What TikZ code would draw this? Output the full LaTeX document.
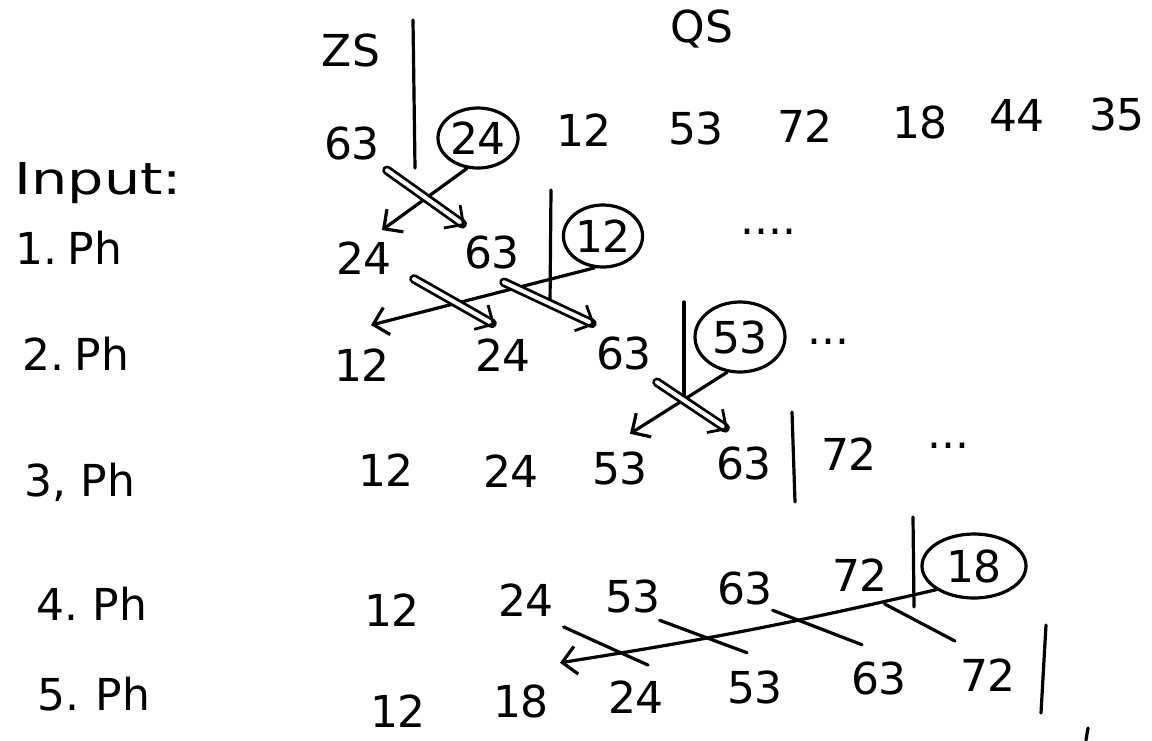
\documentclass[tikz,border=0pt]{standalone}
\usepackage{fontspec}
\usepackage{graphicx}
\setmainfont{DejaVu Sans}
\usetikzlibrary{arrows.meta,calc,shapes.geometric}
\begin{document}
\begin{tikzpicture}[x=1pt,y=-1pt,
  line width=3.2pt, line cap=round, line join=round,
  num/.style={inner sep=0pt, font=\fontsize{44}{44}\selectfont},
  lbl/.style={inner sep=0pt, anchor=base west, font=\fontsize{44}{44}\selectfont},
  ring/.style={draw, ellipse, inner sep=0pt, line width=3.2pt, font=\fontsize{44}{44}\selectfont},
  sep/.style={line width=3.2pt},
  sarrow/.style={-{Straight Barb[length=14pt,width=28pt]}},
  darrow/.style={double, double distance=4pt, line width=2.8pt, -{Straight Barb[length=14pt,width=28pt]}},
  cross/.style={line width=3.2pt}]
\fill[white] (0,0) rectangle (1152,740);
\useasboundingbox (0,0) rectangle (1152,740);

% headers
\node[num] (zs) at (351,50) {ZS};
\node[num] (qs) at (702,29) {QS};

% row labels
\node[lbl] (lin) at (13,194) {\scalebox{1.3}[1]{Input:}};
\node[lbl] (l1) at (14,264) {1.\hspace{10pt}Ph};
\node[lbl] (l2) at (21,370) {2.\hspace{10pt}Ph};
\node[lbl] (l3) at (23,496) {3,\hspace{14pt}Ph};
\node[lbl] (l4) at (35,620) {4.\hspace{14pt}Ph};
\node[lbl] (l5) at (36,710) {5.\hspace{16pt}Ph};

% row 0
\node[num] (a0) at (352,143) {63};
\node[ring, minimum width=80pt, minimum height=60pt] (c0) at (478,138) {24};
\node[num] (b0) at (584,130) {12};
\node[num] (d0) at (696,128) {53};
\node[num] (e0) at (805,126) {72};
\node[num] (f0) at (920,122) {18};
\node[num] (g0) at (1017,115) {44};
\node[num] (h0) at (1117,114) {35};
\draw[sep] (413,20) -- (415,168);

% row 1
\node[num] (a1) at (364,258) {24};
\node[num] (b1) at (492,252) {63};
\node[ring, minimum width=76pt, minimum height=62pt] (c1) at (603,236) {12};
\node[num] (t1) at (768,232) {....};
\draw[sep] (551,190) -- (550,305);

% row 2
\node[num] (a2) at (362,365) {12};
\node[num] (b2) at (503,355) {24};
\node[num] (e2) at (624,353) {63};
\node[ring, minimum width=90pt, minimum height=70pt] (c2) at (740,337) {53};
\node[num] (t2) at (828,342) {...};
\draw[sep] (684,302) -- (684,400);

% row 3
\node[num] (a3) at (386,470) {12};
\node[num] (b3) at (511,471) {24};
\node[num] (d3) at (620,468) {53};
\node[num] (e3) at (744,463) {63};
\node[num] (f3) at (849,454) {72};
\node[num] (t3) at (948,446) {...};
\draw[sep] (792,412) -- (795,502);

% row 4
\node[num] (a4) at (392,610) {12};
\node[num] (b4) at (526,600) {24};
\node[num] (d4) at (633,596) {53};
\node[num] (e4) at (745,588) {63};
\node[num] (f4) at (860,575) {72};
\node[ring, minimum width=104pt, minimum height=64pt] (c4) at (974,566) {18};
\draw[sep] (913,517) -- (914,607);

% row 5
\node[num] (a5) at (398,711) {12};
\node[num] (b5) at (521,701) {18};
\node[num] (d5) at (636,697) {24};
\node[num] (e5) at (755,687) {53};
\node[num] (f5) at (879,678) {63};
\node[num] (g5) at (988,675) {72};
\draw[sep] (1046,625) -- (1041,713);
\draw[sep] (1088,728) -- (1086,740);

% phase 1
\draw[sarrow] (c0.250) -- ($(a1.north)+(18,-10)$);
\draw[darrow] ($(a0.south)+(35,9)$) -- ($(b1.north)+(-27,-8)$);

% phase 2
\draw[sarrow] (c1.255) -- ($(a2.north)+(9,-22)$);
\draw[darrow] ($(a1.south)+(50,3)$) -- ($(b2.north)+(-8,-12)$);
\draw[darrow] ($(b1.south)+(12,12)$) -- ($(e2.north)+(-29,-10)$);

% phase 3
\draw[sarrow] (c2.250) -- ($(d3.north)+(10,-16)$);
\draw[darrow] ($(e2.south)+(33,11)$) -- ($(e3.north)+(-16,-15)$);

% phase 5
\draw[sarrow] (c4.south west) to[bend left=2] ($(b5.north)+(39,-20)$);
\draw[cross] ($(b4.south east)+(8,9)$) -- ($(d5.north)+(12,-14)$);
\draw[cross] ($(d4.south east)+(-3,6)$) -- ($(e5.north)+(-8,-16)$);
\draw[cross] ($(e4.south east)+(-2,4)$) -- ($(f5.north)+(-17,-15)$);
\draw[cross] ($(f4.south east)+(-5,11)$) -- ($(g5.north)+(-33,-16)$);
\end{tikzpicture}
\end{document}
